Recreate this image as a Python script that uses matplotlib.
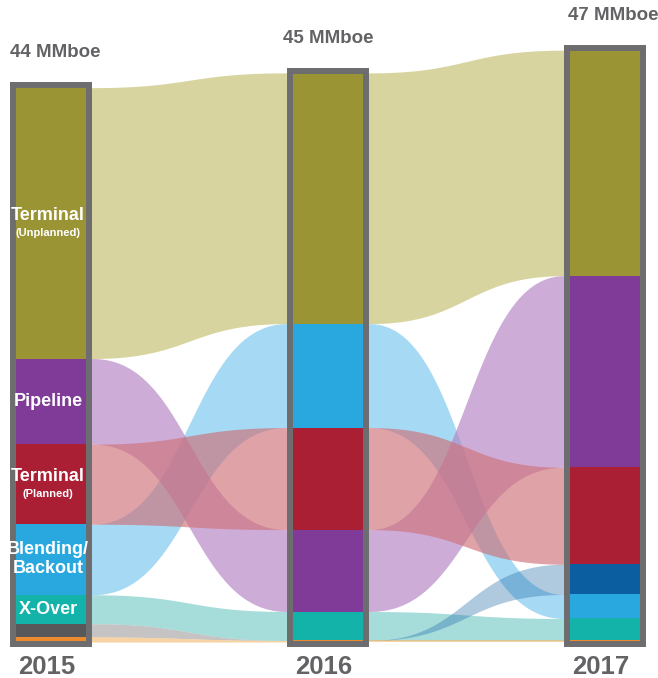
import numpy as np
import matplotlib.pyplot as plt
from matplotlib.patches import Rectangle

plt.rcParams['font.family'] = ['Liberation Sans', 'DejaVu Sans']

years = ['2015', '2016', '2017']
totals = ['44 MMboe', '45 MMboe', '47 MMboe']

# volumes per category (MMboe) for 2015, 2016, 2017
unplanned = [21.5, 19.9, 17.9]
pipeline = [6.8, 6.5, 15.2]
planned = [6.35, 8.1, 7.7]
blending = [5.6, 8.25, 1.9]
xover = [2.3, 2.3, 1.75]
other = [1.05, 0.0, 0.0]
minor = [0.4, 0.12, 0.12]
new = [0.0, 0.0, 2.4]

values = {
    'unplanned': unplanned, 'pipeline': pipeline, 'planned': planned,
    'blending': blending, 'xover': xover, 'other': other,
    'minor': minor, 'new': new,
}
colors = {
    'unplanned': '#9a9435', 'pipeline': '#7f3b97', 'planned': '#ab1f34',
    'blending': '#29a8e0', 'xover': '#14b3a9', 'other': '#58585b',
    'minor': '#ec8a2d', 'new': '#0b5ea0',
}
# band colours, drawn semi-transparent so crossings show through
flow_colors = {
    'unplanned': '#c4be6d', 'pipeline': '#b282c3', 'planned': '#cf7179',
    'blending': '#76c6ee', 'xover': '#76ccc8', 'other': '#a7a3a4',
    'minor': '#f3ba70', 'new': '#2f73ad',
}
flow_alpha = {'new': 0.38}

# stacking order, top to bottom, for each year
orders = [
    ['unplanned', 'pipeline', 'planned', 'blending', 'xover', 'new', 'other', 'minor'],
    ['unplanned', 'blending', 'planned', 'pipeline', 'xover', 'new', 'other', 'minor'],
    ['unplanned', 'pipeline', 'planned', 'new', 'blending', 'xover', 'other', 'minor'],
]

# labels written inside the 2015 bar
seg_labels = {
    'unplanned': ('Terminal', '(Unplanned)'),
    'pipeline': ('Pipeline', None),
    'planned': ('Terminal', '(Planned)'),
    'blending': ('Blending/\nBackout', None),
    'xover': ('X-Over', None),
}

xs = np.arange(len(years))
bar_w = 0.256
frame_c = '#6d6d70'
text_c = '#636366'


def stack_positions(i):
    pos = {}
    base = 0.0
    for cat in reversed(orders[i]):
        v = values[cat][i]
        pos[cat] = (base, base + v)
        base += v
    return pos


def link_edge(xa, xb, ya, yb, x):
    # cubic bezier with horizontal tangents at both ends
    t = np.linspace(0, 1, 300)
    xm = (xa + xb) / 2
    bx = (1 - t) ** 3 * xa + 3 * (1 - t) ** 2 * t * xm + 3 * (1 - t) * t ** 2 * xm + t ** 3 * xb
    by = (1 - t) ** 3 * ya + 3 * (1 - t) ** 2 * t * ya + 3 * (1 - t) * t ** 2 * yb + t ** 3 * yb
    return np.interp(x, bx, by)


positions = [stack_positions(i) for i in range(len(years))]

fig = plt.figure(figsize=(6.58, 6.78), dpi=100)
ax = fig.add_axes([0, 0, 1, 1])
ax.set_xlim(-51 / 277, (658 - 51) / 277)
ax.set_ylim(-36 / 12.6, (678 - 36) / 12.6)
ax.axis('off')

# flows between neighbouring years
flow_order = ['unplanned', 'blending', 'pipeline', 'planned', 'xover',
              'other', 'minor', 'new']
half = bar_w / 2 + 6 / 277
for i in range(len(years) - 1):
    xa, xb = xs[i] + half, xs[i + 1] - half
    x = np.linspace(xs[i], xs[i + 1], 500)
    for cat in flow_order:
        b0, t0 = positions[i][cat]
        b1, t1 = positions[i + 1][cat]
        if t0 - b0 == 0 and t1 - b1 == 0:
            continue
        ax.fill_between(x, link_edge(xa, xb, b0, b1, x), link_edge(xa, xb, t0, t1, x),
                        color=flow_colors[cat], alpha=flow_alpha.get(cat, 0.65),
                        lw=0, zorder=1)

# stacked bars with a grey frame
for i, xc in enumerate(xs):
    for cat in orders[i]:
        b, t = positions[i][cat]
        if t - b > 0:
            ax.bar(xc, t - b, bottom=b, width=bar_w, color=colors[cat],
                   lw=0, zorder=2)
    total = sum(values[c][i] for c in orders[i])
    fw = bar_w + 6 / 277
    ax.add_patch(Rectangle((xc - fw / 2, -0.12), fw, total + 0.3,
                           fill=False, ec=frame_c, lw=4.3, zorder=3))
    ax.text(xc - 0.015, -2.0, years[i], ha='center', va='center',
            fontsize=18.5, fontweight='bold', color=text_c)

total_pos = [(-0.148, 46.8), (1.0, 47.9), (2.03, 49.7)]
for (tx, ty), lab, i in zip(total_pos, totals, range(3)):
    ax.text(tx, ty, lab, ha='left' if i == 0 else 'center', va='center',
            fontsize=13.5, fontweight='bold', color=text_c)

# category names in the first bar
for cat, (main, sub) in seg_labels.items():
    b, t = positions[0][cat]
    yc = (b + t) / 2
    if sub is None:
        ax.text(-0.011, yc, main, ha='center', va='center', fontsize=13,
                fontweight='bold', color='white', zorder=4, linespacing=1.15)
    else:
        ax.text(-0.011, yc + 0.6, main, ha='center', va='center',
                fontsize=13, fontweight='bold', color='white', zorder=4)
        ax.text(-0.011, yc - 0.8, sub, ha='center', va='center',
                fontsize=8, fontweight='bold', color='white', zorder=4)

fig.savefig('out.png', dpi=100)
